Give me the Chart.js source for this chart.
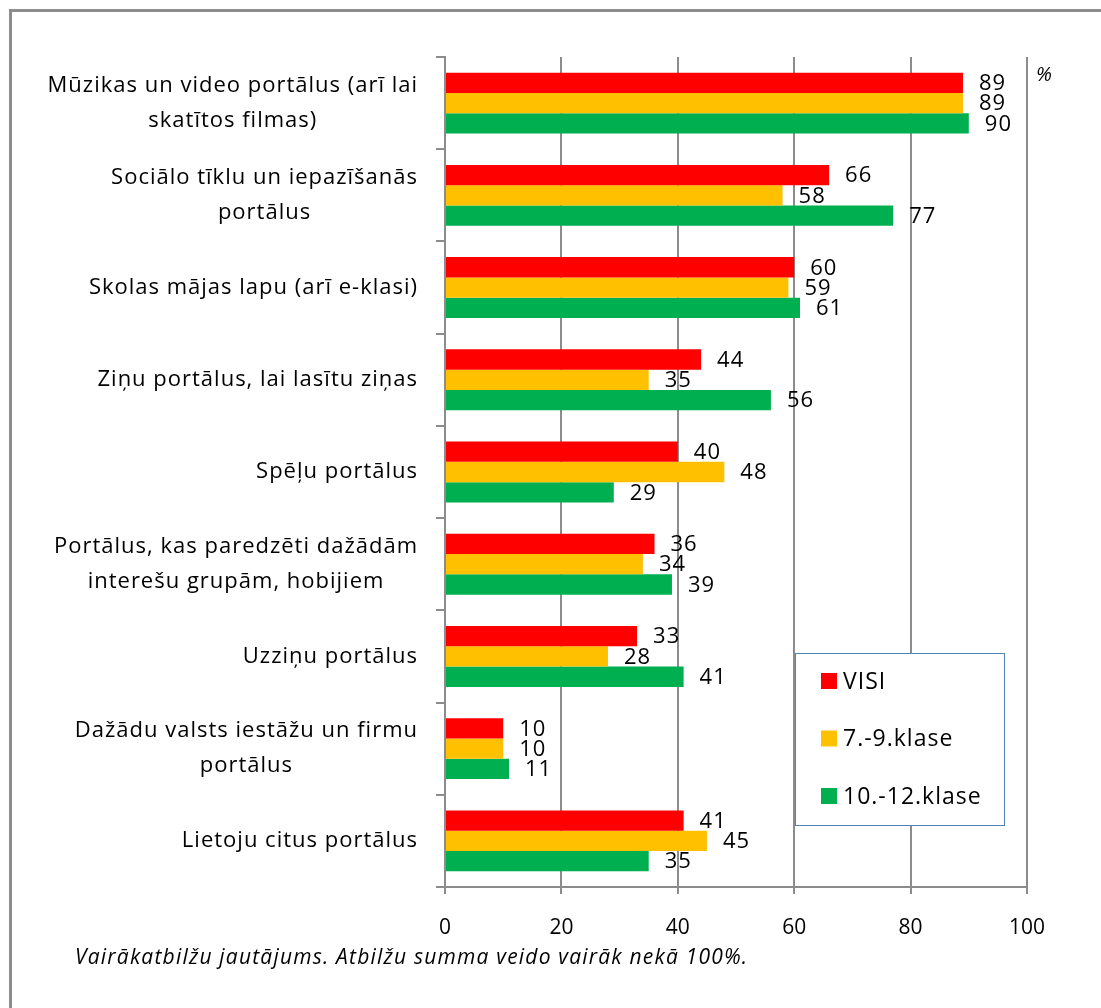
<!DOCTYPE html>
<html lang="lv">
<head>
    <meta charset="UTF-8">
    <title>Portāli</title>
    <style>
        body {
            margin: 0;
            background: #ffffff;
        }
        #wrap {
            width: 1101px;
            height: 1008px;
        }
    </style>
</head>
<body>
    <div id="wrap">
        <canvas id="portaliChart" width="1101" height="1008"></canvas>
    </div>

    <script src="https://cdn.jsdelivr.net/npm/chart.js"></script>
    <script>
        // kategorijas (rindas sadalītas kā oriģinālā)
        const categories = [
            ['Mūzikas un video portālus (arī lai', 'skatītos filmas)'],
            ['Sociālo tīklu un iepazīšanās', 'portālus'],
            ['Skolas mājas lapu (arī e-klasi)'],
            ['Ziņu portālus, lai lasītu ziņas'],
            ['Spēļu portālus'],
            ['Portālus, kas paredzēti dažādām', 'interešu grupām, hobijiem'],
            ['Uzziņu portālus'],
            ['Dažādu valsts iestāžu un firmu', 'portālus'],
            ['Lietoju citus portālus']
        ];
        const seriesNames = ['VISI', '7.-9.klase', '10.-12.klase'];
        const visi = [89, 66, 60, 44, 40, 36, 33, 10, 41];
        const klase79 = [89, 58, 59, 35, 48, 34, 28, 10, 45];
        const klase1012 = [90, 77, 61, 56, 29, 39, 41, 11, 35];
        const unitLabel = '%';
        const footnote = 'Vairākatbilžu jautājums. Atbilžu summa veido vairāk nekā 100%.';

        const gridGray = '#8c8c8c';
        const txtFont = '"Open Sans", sans-serif';

        // rāmis, kategoriju nosaukumi, vērtības, leģenda
        const extras = {
            id: 'extras',
            beforeDraw(chart) {
                const c = chart.ctx;
                c.save();
                c.fillStyle = '#ffffff';
                c.fillRect(0, 0, chart.width, chart.height);
                c.strokeStyle = '#8c8c8c';
                c.lineWidth = 3;
                c.beginPath();
                c.moveTo(10.5, chart.height + 5);
                c.lineTo(10.5, 10.5);
                c.lineTo(chart.width + 5, 10.5);
                c.stroke();
                c.restore();
            },
            afterDatasetsDraw(chart) {
                const c = chart.ctx;
                const yScale = chart.scales.y;
                c.save();
                c.fillStyle = '#000000';

                // kategoriju nosaukumi
                c.font = '22px ' + txtFont;
                c.letterSpacing = '1px';
                c.textBaseline = 'middle';
                c.textAlign = 'left';
                categories.forEach((lines, i) => {
                    const yc = yScale.getPixelForTick(i);
                    const widths = lines.map(l => c.measureText(l).width - 1);
                    const maxW = Math.max(...widths);
                    const xc = 417 - maxW / 2;
                    const lh = 35;
                    const y0 = yc - (lines.length - 1) * lh / 2;
                    lines.forEach((l, j) => c.fillText(l, xc - widths[j] / 2, y0 + j * lh));
                });

                // vērtības pie stabiņiem
                c.font = '22px ' + txtFont;
                c.letterSpacing = '1px';
                chart.data.datasets.forEach((ds, di) => {
                    const meta = chart.getDatasetMeta(di);
                    meta.data.forEach((bar, i) => {
                        c.fillText(String(ds.data[i]), bar.x + 16, bar.y + 1);
                    });
                });

                // % zīme
                c.letterSpacing = '0px';
                c.font = 'italic 20px ' + txtFont;
                c.fillText(unitLabel, 1036, 75);

                // leģenda
                const lx = 795, ly = 653, lw = 209, lh2 = 172;
                c.fillStyle = '#ffffff';
                c.fillRect(lx, ly, lw, lh2);
                c.strokeStyle = '#4f81bd';
                c.lineWidth = 1;
                c.strokeRect(lx + 0.5, ly + 0.5, lw, lh2);
                c.font = '23px ' + txtFont;
                c.letterSpacing = '1px';
                chart.data.datasets.forEach((ds, di) => {
                    const yy = 681 + di * 57.5;
                    c.fillStyle = ds.backgroundColor;
                    c.fillRect(821, yy - 8, 16, 16);
                    c.fillStyle = '#000000';
                    c.fillText(ds.label, 843, yy + 1);
                });

                // piezīme
                c.font = 'italic 21px ' + txtFont;
                c.letterSpacing = '1.2px';
                c.fillText(footnote, 75, 958);
                c.restore();
            }
        };

        const ctx = document.getElementById('portaliChart').getContext('2d');
        const portaliChart = new Chart(ctx, {
            type: 'bar',
            data: {
                labels: categories.map(l => l.join(' ')),
                datasets: [
                    { label: seriesNames[0], data: visi, backgroundColor: '#ff0000' },
                    { label: seriesNames[1], data: klase79, backgroundColor: '#ffc000' },
                    { label: seriesNames[2], data: klase1012, backgroundColor: '#00b050' }
                ]
            },
            options: {
                indexAxis: 'y',
                responsive: false,
                animation: false,
                categoryPercentage: 0.66,
                barPercentage: 1,
                layout: {
                    padding: { left: 0, top: 57, right: 74, bottom: 0 }
                },
                plugins: {
                    legend: { display: false },
                    tooltip: { enabled: false }
                },
                scales: {
                    x: {
                        min: 0,
                        max: 100,
                        ticks: {
                            stepSize: 20,
                            color: '#000000',
                            font: { family: txtFont, size: 21 },
                            padding: 21
                        },
                        grid: {
                            color: gridGray,
                            lineWidth: 2,
                            tickLength: 7
                        },
                        border: { color: gridGray, width: 2 },
                        afterFit(scale) { scale.height = 1008 - 887; }
                    },
                    y: {
                        ticks: { display: false },
                        grid: {
                            color: gridGray,
                            lineWidth: 2,
                            drawOnChartArea: false,
                            tickLength: 9
                        },
                        border: { color: gridGray, width: 2 },
                        afterFit(scale) { scale.width = 445; }
                    }
                }
            },
            plugins: [extras]
        });
    </script>
</body>
</html>
